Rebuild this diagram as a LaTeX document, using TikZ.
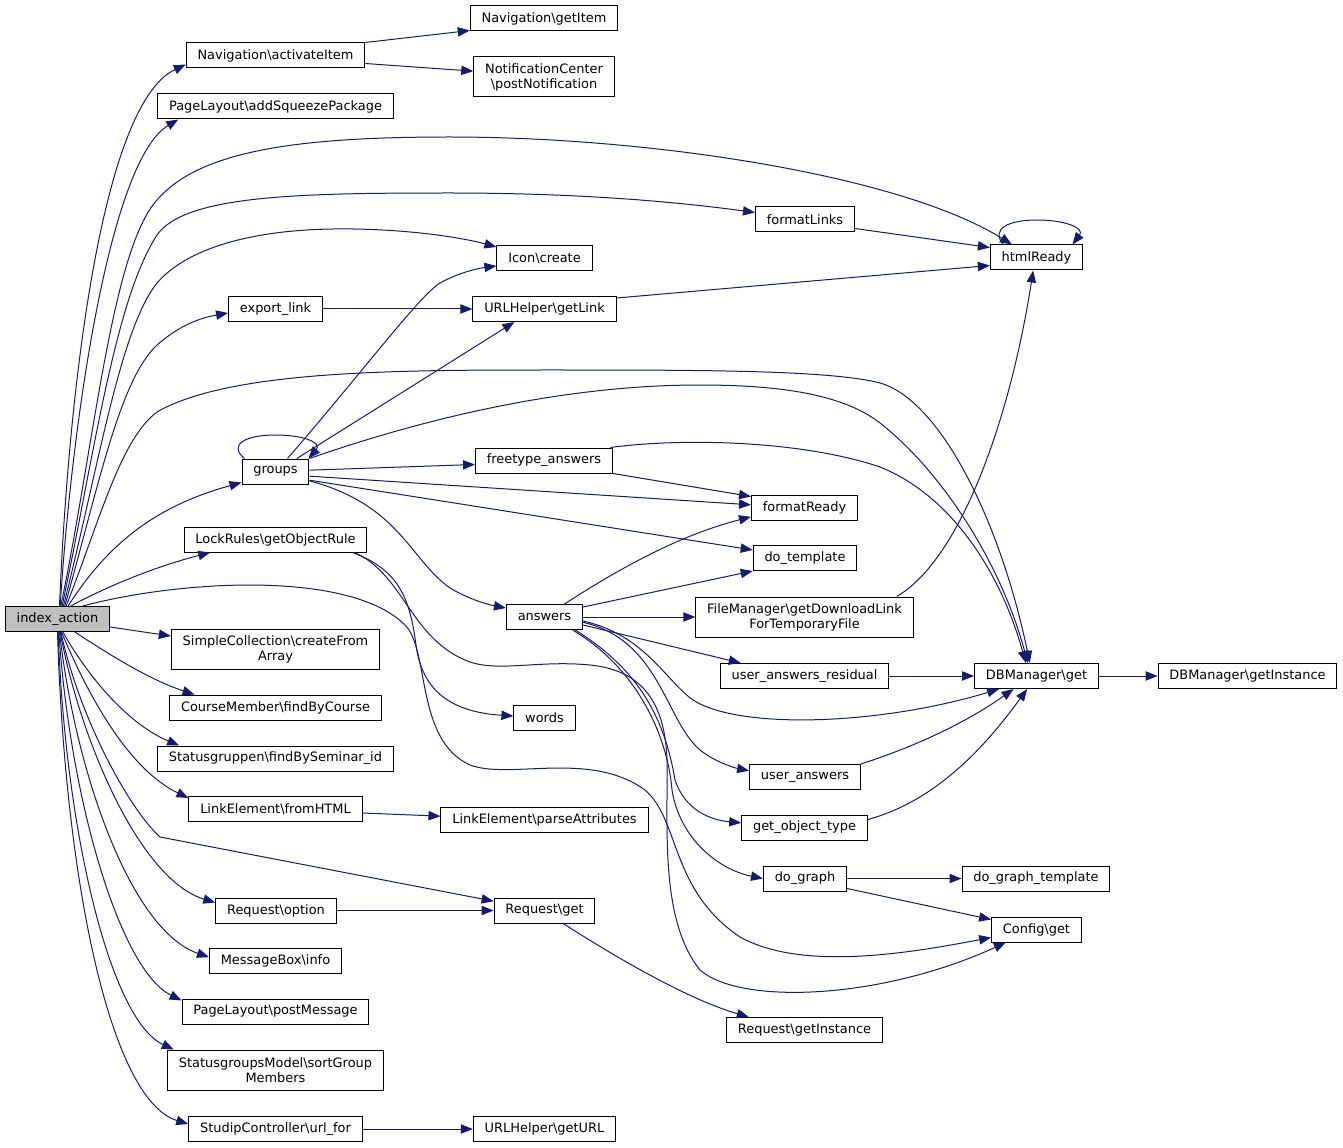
\documentclass[tikz,border=0pt]{standalone}
\usepackage{fontspec}
\setmainfont{DejaVu Sans}
\usetikzlibrary{arrows.meta}
\definecolor{callblue}{RGB}{25,25,112}
\tikzset{>={Triangle[length=9pt,width=7pt]}}

\begin{document}
\begin{tikzpicture}[x=0.75pt, y=-0.75pt,
    fn/.style={draw=black, line width=0.75pt, fill=white, inner xsep=8.5pt, inner ysep=2pt,
      minimum height=18.75pt, font=\fontsize{9.7}{11.25}\selectfont, align=center},
    root/.style={fn, fill=black!25},
    twoline/.style={minimum height=30pt},
    call/.style={->, draw=callblue, line width=0.75pt}]
  \useasboundingbox (0,0) rectangle (1343,1148);

  \node[root] (idx) at (57.5,619) {index\_action};

  \node[fn] (nav) at (275.5,55.5) {Navigation\textbackslash activateItem};
  \node[fn] (navget) at (544,18.5) {Navigation\textbackslash getItem};
  \node[fn, twoline] (notif) at (544,77) {NotificationCenter\\\textbackslash postNotification};
  \node[fn] (squeeze) at (275.5,106.5) {PageLayout\textbackslash addSqueezePackage};
  \node[fn] (flinks) at (805,219.5) {formatLinks};
  \node[fn] (html) at (1036.5,257.5) {htmlReady};
  \node[fn] (icon) at (544.5,258) {Icon\textbackslash create};
  \node[fn] (export) at (275.5,309) {export\_link};
  \node[fn] (getlink) at (544.5,309) {URLHelper\textbackslash getLink};
  \node[fn] (groups) at (275.5,471.5) {groups};
  \node[fn] (ftype) at (544,460.5) {freetype\_answers};
  \node[fn] (fready) at (804.5,507.5) {formatReady};
  \node[fn] (dotpl) at (805,558) {do\_template};
  \node[fn] (lock) at (275.5,539.5) {LockRules\textbackslash getObjectRule};
  \node[fn] (answers) at (544.5,617) {answers};
  \node[fn, twoline] (fileman) at (804.5,617) {FileManager\textbackslash getDownloadLink\\ForTemporaryFile};
  \node[fn] (uares) at (804.5,676) {user\_answers\_residual};
  \node[fn] (dbget) at (1036.5,676) {DBManager\textbackslash get};
  \node[fn] (dbinst) at (1247.5,676) {DBManager\textbackslash getInstance};
  \node[fn, twoline] (simple) at (275.5,649) {SimpleCollection\textbackslash createFrom\\Array};
  \node[fn] (words) at (544.5,718) {words};
  \node[fn] (course) at (275.5,707.5) {CourseMember\textbackslash findByCourse};
  \node[fn] (statusg) at (275.5,758.5) {Statusgruppen\textbackslash findBySeminar\_id};
  \node[fn] (uans) at (805,777) {user\_answers};
  \node[fn] (fromhtml) at (275.5,809) {LinkElement\textbackslash fromHTML};
  \node[fn] (parse) at (544.5,819.5) {LinkElement\textbackslash parseAttributes};
  \node[fn] (objtype) at (804.5,827.5) {get\_object\_type};
  \node[fn] (dograph) at (805,878.5) {do\_graph};
  \node[fn] (dgtpl) at (1036,878.5) {do\_graph\_template};
  \node[fn] (reqopt) at (276,910.5) {Request\textbackslash option};
  \node[fn] (reqget) at (544.5,910.5) {Request\textbackslash get};
  \node[fn] (cfget) at (1036.5,929.5) {Config\textbackslash get};
  \node[fn] (msgbox) at (275.5,960.5) {MessageBox\textbackslash info};
  \node[fn] (postmsg) at (275.5,1011.5) {PageLayout\textbackslash postMessage};
  \node[fn] (reqinst) at (804.5,1030) {Request\textbackslash getInstance};
  \node[fn, twoline] (sortgrp) at (275.5,1070) {StatusgroupsModel\textbackslash sortGroup\\Members};
  \node[fn] (urlfor) at (275.5,1129) {StudipController\textbackslash url\_for};
  \node[fn] (geturl) at (544.5,1129) {URLHelper\textbackslash getURL};

  % index_action, upwards
  \draw[call] ([xshift=1.5pt]idx.north) .. controls (68,400) and (100,105) .. ([yshift=3pt]nav.south west);
  \draw[call] ([xshift=2pt]idx.north) .. controls (72,420) and (110,160) .. ([xshift=15.75pt]squeeze.south west);
  \draw[call] ([xshift=2.5pt]idx.north) .. controls (95,440) and (112,250) .. (157,200)
    .. controls (200,150) and (300,137) .. (450,137) .. controls (650,137) and (900,175) .. ([xshift=16.5pt]html.north west);
  \draw[call] ([xshift=3.5pt]idx.north) .. controls (95,450) and (115,300) .. (157,235)
    .. controls (185,195) and (300,193) .. (450,193) .. controls (600,193) and (700,205) .. ([yshift=-4.5pt]flinks.north west);
  \draw[call] ([xshift=4.5pt]idx.north) .. controls (100,460) and (120,330) .. (157,283)
    .. controls (190,245) and (260,230) .. (333,229) .. controls (400,228) and (460,237) .. ([yshift=-1.5pt]icon.north west);
  \draw[call] ([xshift=5.5pt]idx.north) .. controls (100,480) and (120,380) .. (157,345)
    .. controls (180,325) and (200,318) .. ([yshift=-3pt]export.west);
  \draw[call] ([xshift=6.5pt]idx.north) .. controls (100,520) and (120,440) .. (157,412)
    .. controls (230,370) and (400,370) .. (550,370) .. controls (700,370) and (830,370) .. (880,383)
    .. controls (940,400) and (1000,520) .. ([xshift=-5pt]dbget.north);
  \draw[call] ([xshift=8pt]idx.north) .. controls (110,540) and (160,505) .. ([yshift=1.5pt]groups.south west);
  \draw[call] ([xshift=10pt]idx.north) .. controls (100,590) and (150,568) .. ([xshift=20pt]lock.south west);
  \draw[call] ([xshift=19pt]idx.north) .. controls (180,580) and (350,570) .. (405,625)
    .. controls (430,650) and (415,740) .. (470,765) .. controls (510,780) and (590,750) .. (645,790)
    .. controls (680,820) and (670,890) .. (740,937) .. controls (800,970) and (900,955) .. ([yshift=-6pt]cfget.west);

  % index_action, downwards
  \draw[call] ([yshift=-6pt]idx.east) -- ([yshift=9.75pt]simple.west);
  \draw[call] ([xshift=13pt]idx.south) .. controls (110,655) and (150,680) .. ([xshift=19pt]course.north west);
  \draw[call] ([xshift=4pt]idx.south) .. controls (90,680) and (130,725) .. ([xshift=16.5pt]statusg.north west);
  \draw[call] ([xshift=3pt]idx.south) .. controls (90,700) and (130,770) .. ([yshift=-1.5pt]fromhtml.north west);
  \draw[call] ([xshift=2.5pt]idx.south) .. controls (80,720) and (130,810) .. (160,837) -- ([yshift=7pt]reqget.west);
  \draw[call] ([xshift=2pt]idx.south) .. controls (80,740) and (140,880) .. ([yshift=-3.75pt]reqopt.north west);
  \draw[call] ([xshift=1.5pt]idx.south) .. controls (75,770) and (130,930) .. ([yshift=2.5pt]msgbox.west);
  \draw[call] ([xshift=1pt]idx.south) .. controls (70,800) and (120,970) .. ([yshift=-1.5pt]postmsg.north west);
  \draw[call] ([xshift=0.5pt]idx.south) .. controls (65,830) and (110,1020) .. ([xshift=5pt]sortgrp.north west);
  \draw[call] (idx.south) .. controls (65,880) and (110,1100) .. ([yshift=3.75pt]urlfor.west);

  \draw[call] (nav.north east) -- ([yshift=0.75pt]navget.south west);
  \draw[call] ([yshift=3.75pt]nav.south east) -- ([yshift=-11pt]notif.north west);
  \draw[call] ([yshift=3pt]flinks.south east) -- ([yshift=-2.25pt]html.north west);
  \draw[call] ([xshift=10pt]html.north west) .. controls (990,228) and (1010,220) .. (1037,220)
    .. controls (1065,220) and (1085,228) .. ([xshift=-8pt]html.north east);
  \draw[call] ([yshift=-1.5pt]getlink.north east) -- ([yshift=3.75pt]html.south west);
  \draw[call] (export) -- (getlink);

  % groups
  \draw[call] ([xshift=2.25pt]groups.north west) .. controls (228,445) and (245,435) .. (275,435)
    .. controls (305,435) and (322,443) .. ([xshift=-0.75pt]groups.north east);
  \draw[call] ([xshift=9pt]groups.north) .. controls (360,375) and (420,295) .. (440,283)
    .. controls (460,272) and (480,268) .. ([yshift=-6pt]icon.west);
  \draw[call] ([xshift=16pt]groups.north) -- ([xshift=31.5pt]getlink.south west);
  \draw[call] (groups.north east) .. controls (420,420) and (560,385) .. (700,385)
    .. controls (800,385) and (850,400) .. (880,423) .. controls (940,470) and (1000,560) .. ([xshift=-6.5pt]dbget.north);
  \draw[call] ([yshift=1pt]groups.east) -- ([yshift=-3pt]ftype.west);
  \draw[call] ([yshift=-3.5pt]groups.east) -- ([yshift=2pt]fready.west);
  \draw[call] ([yshift=-6.5pt]groups.east) -- ([yshift=6pt]dotpl.west);
  \draw[call] ([yshift=-7pt]groups.east) .. controls (400,505) and (410,560) .. (450,588)
    .. controls (470,600) and (490,605) .. ([yshift=-3pt]answers.north west);

  \draw[call] (ftype.south east) -- ([yshift=-1.5pt]fready.north west);
  \draw[call] ([xshift=-2pt]ftype.north east) .. controls (680,438) and (800,440) .. (880,467)
    .. controls (950,495) and (1000,570) .. ([xshift=-8pt]dbget.north);

  % answers
  \draw[call] ([xshift=15pt]answers.north) .. controls (620,568) and (680,535) .. ([yshift=-7pt]fready.west);
  \draw[call] ([yshift=7.5pt]answers.east) -- (dotpl.south west);
  \draw[call] (answers) -- (fileman);
  \draw[call] ([yshift=-6pt]answers.east) -- ([xshift=15.75pt]uares.north west);
  \draw[call] ([yshift=-3pt]answers.east) .. controls (645,635) and (665,680) .. (693,700)
    .. controls (740,730) and (880,725) .. ([xshift=18.75pt]dbget.south west);
  \draw[call] ([yshift=-4pt]answers.east) .. controls (660,640) and (665,720) .. (700,750)
    .. controls (715,762) and (735,768) .. ([yshift=-5pt]uans.north west);
  \draw[call] ([xshift=23pt]answers.south) .. controls (640,670) and (665,720) .. (675,780)
    .. controls (685,810) and (710,820) .. ([yshift=3.5pt]objtype.west);
  \draw[call] ([xshift=21pt]answers.south) .. controls (640,670) and (668,740) .. (672,790)
    .. controls (680,840) and (720,870) .. (dograph.west);

  % LockRules
  \draw[call] ([xshift=-11.25pt]lock.south east) .. controls (400,570) and (410,600) .. (416,645)
    .. controls (422,690) and (450,712) .. ([yshift=1.5pt]words.west);
  \draw[call] ([xshift=-9.75pt]lock.south east) .. controls (405,575) and (410,640) .. (470,662)
    .. controls (500,672) and (540,660) .. (590,665) .. controls (640,670) and (665,700) .. (667,760)
    .. controls (668,830) and (660,920) .. (700,970) .. controls (740,1005) and (880,1000) .. ([xshift=-23pt]cfget.south);

  \draw[call] ([xshift=-12.75pt]fileman.north east) .. controls (960,560) and (1010,420) .. ([xshift=-2.5pt]html.south);
  \draw[call] (uares) -- (dbget);
  \draw[call] (dbget) -- (dbinst);
  \draw[call] (uans.north east) .. controls (920,745) and (970,720) .. ([xshift=-17.25pt]dbget.south);
  \draw[call] ([yshift=-3.75pt]objtype.north east) .. controls (940,800) and (990,740) .. ([xshift=-7pt]dbget.south);
  \draw[call] ([yshift=-3pt]fromhtml.east) -- ([yshift=2.5pt]parse.west);
  \draw[call] (reqopt) -- (reqget);
  \draw[call] ([xshift=14pt]reqget.south) .. controls (620,960) and (690,1000) .. ([xshift=17pt]reqinst.north west);
  \draw[call] (dograph) -- (dgtpl);
  \draw[call] ([yshift=-7.5pt]dograph.east) -- ([yshift=-2.25pt]cfget.north west);
  \draw[call] (urlfor) -- (geturl);
\end{tikzpicture}
\end{document}
